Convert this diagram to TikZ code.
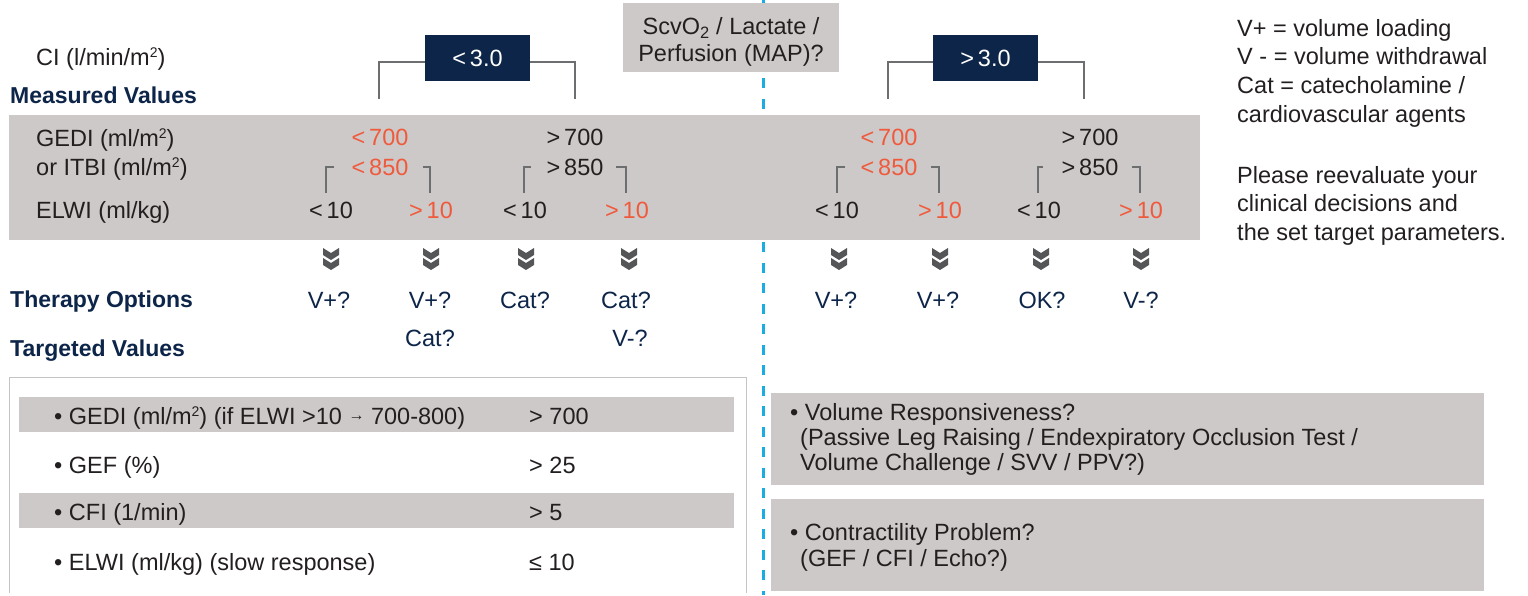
\documentclass[tikz,border=0pt]{standalone}
\usepackage{fontspec}
\setmainfont{Liberation Sans}
\definecolor{navy}{HTML}{0D2549}
\definecolor{bandc}{HTML}{CDC9C8}
\definecolor{hotc}{HTML}{F05A3C}
\definecolor{txtc}{HTML}{231F20}
\definecolor{cyanl}{HTML}{1AADE4}
\definecolor{brkc}{HTML}{6D6E70}
\definecolor{chevc}{HTML}{555658}
\definecolor{outl}{HTML}{C4C4C4}
\newcommand{\sqsup}{\raisebox{8pt}{\fontsize{14}{14}\selectfont 2}}
\newcommand{\smarr}{\raisebox{4.5pt}{\fontsize{16}{16}\selectfont →}}
\begin{document}
\begin{tikzpicture}[x=1pt,y=-1pt,
  txt/.style={inner sep=0pt, text height=17pt, text depth=0pt, font=\fontsize{23.5}{28}\selectfont, text=txtc},
  lbl/.style={txt, anchor=west},
  val/.style={txt},
  hot/.style={text=hotc},
  head/.style={txt, anchor=west, font=\fontsize{23}{28}\selectfont\bfseries, text=navy},
  ther/.style={txt, text=navy},
  cibox/.style={fill=navy, text=white, minimum width=105pt, minimum height=46pt, inner sep=0pt, text height=17pt, text depth=0pt, font=\fontsize{23.5}{28}\selectfont},
  brk/.style={draw=brkc, line width=1.3pt},
  graybox/.style={fill=bandc, draw=none, inner sep=0pt, anchor=north west},
  dchev/.pic={
    \fill[chevc] (-8,0)--(0,5)--(8,0)--(8,7)--(0,12)--(-8,7)--cycle;
    \fill[chevc] (-8,10)--(0,15)--(8,10)--(8,17)--(0,22)--(-8,17)--cycle;
  }
]
\fill[white] (0,0) rectangle (1528,595);
\useasboundingbox (0,0) rectangle (1528,595);

% dashed divider
\draw[cyanl, line width=3pt, dash pattern=on 10pt off 10.5pt, dash phase=4pt] (763,0) -- (763,595);

% ScvO2 box
\node[graybox, minimum width=216pt, minimum height=69pt] (scv) at (623,3) {};
\node[val] (scv1) at (731,26) {ScvO\textsubscript{2} / Lactate /};
\node[val] (scv2) at (731,53) {Perfusion (MAP)?};

% CI row
\node[lbl] (ci) at (36,57) {CI (l/min/m\sqsup)};
\node[cibox] (lt) at (477.5,58) {<\,3.0};
\node[cibox] (gt) at (985.5,58) {>\,3.0};
\coordinate (c1) at (379,99);
\coordinate (c2) at (575,99);
\coordinate (c3) at (888,99);
\coordinate (c4) at (1084,99);
\draw[brk] ([yshift=-4pt]lt.west) -| (c1);
\draw[brk] ([yshift=-4pt]lt.east) -| (c2);
\draw[brk] ([yshift=-4pt]gt.west) -| (c3);
\draw[brk] ([yshift=-4pt]gt.east) -| (c4);

\node[head] (mv) at (10,95) {Measured Values};

% measured band
\node[graybox, minimum width=1191pt, minimum height=125pt] (band) at (9,115) {};
\node[lbl] (gedi) at (36,138) {GEDI (ml/m\sqsup)};
\node[lbl] (itbi) at (36,167) {or ITBI (ml/m\sqsup)};
\node[lbl] (elwi) at (36,210) {ELWI (ml/kg)};

\node[val,hot] (g1) at (380,137) {<\,700};
\node[val] (g2) at (575,137) {>\,700};
\node[val,hot] (g3) at (889,137) {<\,700};
\node[val] (g4) at (1090,137) {>\,700};
\node[val,hot] (i1) at (380,167) {<\,850};
\node[val] (i2) at (575,167) {>\,850};
\node[val,hot] (i3) at (889,167) {<\,850};
\node[val] (i4) at (1090,167) {>\,850};

\node[val] (e1) at (331,210) {<\,10};
\node[val,hot] (e2) at (431,210) {>\,10};
\node[val] (e3) at (525,210) {<\,10};
\node[val,hot] (e4) at (627,210) {>\,10};
\node[val] (e5) at (837,210) {<\,10};
\node[val,hot] (e6) at (940,210) {>\,10};
\node[val] (e7) at (1039,210) {<\,10};
\node[val,hot] (e8) at (1141,210) {>\,10};

\coordinate (k1) at (326,193);
\coordinate (k2) at (430,193);
\coordinate (k3) at (524,193);
\coordinate (k4) at (626,193);
\coordinate (k5) at (837,193);
\coordinate (k6) at (939,193);
\coordinate (k7) at (1038,193);
\coordinate (k8) at (1140,193);
\draw[brk] ([xshift=-17pt]i1.west) -| (k1);
\draw[brk] ([xshift=14pt]i1.east) -| (k2);
\draw[brk] ([xshift=-15pt]i2.west) -| (k3);
\draw[brk] ([xshift=12pt]i2.east) -| (k4);
\draw[brk] ([xshift=-15pt]i3.west) -| (k5);
\draw[brk] ([xshift=13pt]i3.east) -| (k6);
\draw[brk] ([xshift=-18pt]i4.west) -| (k7);
\draw[brk] ([xshift=13pt]i4.east) -| (k8);

% chevrons
\foreach \cx in {331,431,526,629,839,940,1041,1141}
  \pic at (\cx,248) {dchev};

% therapy options
\node[head] (to) at (10,299) {Therapy Options};
\node[ther] (t1) at (329,300) {V+?};
\node[ther] (t2) at (430,300) {V+?};
\node[ther] (t3) at (525,300) {Cat?};
\node[ther] (t4) at (626,300) {Cat?};
\node[ther] (t5) at (836,300) {V+?};
\node[ther] (t6) at (938,300) {V+?};
\node[ther] (t7) at (1042,300) {OK?};
\node[ther] (t8) at (1141,300) {V-?};
\node[ther] (t2b) at (430,338) {Cat?};
\node[ther] (t4b) at (630,338) {V-?};

\node[head] (tv) at (10,348) {Targeted Values};

% targeted values box
\draw[outl, line width=1pt] (9,593) -- (9,377) -- (746,377) -- (746,593);
\node[graybox, minimum width=715pt, minimum height=35pt] (row1) at (19,397) {};
\node[graybox, minimum width=715pt, minimum height=35pt] (row3) at (19,493) {};
\node[lbl] (r1) at (54,416) {• GEDI (ml/m\sqsup) (if ELWI >10 \smarr{} 700-800)};
\node[lbl] (r1v) at (529,416) {> 700};
\node[lbl] (r2) at (54,465) {• GEF (\%)};
\node[lbl] (r2v) at (529,465) {> 25};
\node[lbl] (r3) at (54,512) {• CFI (1/min)};
\node[lbl] (r3v) at (529,512) {> 5};
\node[lbl] (r4) at (54,562) {• ELWI (ml/kg) (slow response)};
\node[lbl] (r4v) at (529,562) {≤ 10};

% right boxes
\node[graybox, minimum width=713pt, minimum height=92pt] (vbox) at (771,393) {};
\node[lbl] (v1) at (790,412) {• Volume Responsiveness?};
\node[lbl] (v2) at (800,437) {(Passive Leg Raising / Endexpiratory Occlusion Test /};
\node[lbl] (v3) at (800,462) {Volume Challenge / SVV / PPV?)};
\node[graybox, minimum width=713pt, minimum height=92pt] (cbox) at (771,499) {};
\node[lbl] (p1) at (790,532) {• Contractility Problem?};
\node[lbl] (p2) at (800,558) {(GEF / CFI / Echo?)};

% legend
\node[lbl] (l1) at (1237,28) {V+ = volume loading};
\node[lbl] (l2) at (1237,56) {V - = volume withdrawal};
\node[lbl] (l3) at (1237,85) {Cat = catecholamine /};
\node[lbl] (l4) at (1237,114) {cardiovascular agents};
\node[lbl] (l5) at (1237,175) {Please reevaluate your};
\node[lbl] (l6) at (1237,203) {clinical decisions and};
\node[lbl] (l7) at (1237,232) {the set target parameters.};
\end{tikzpicture}
\end{document}
